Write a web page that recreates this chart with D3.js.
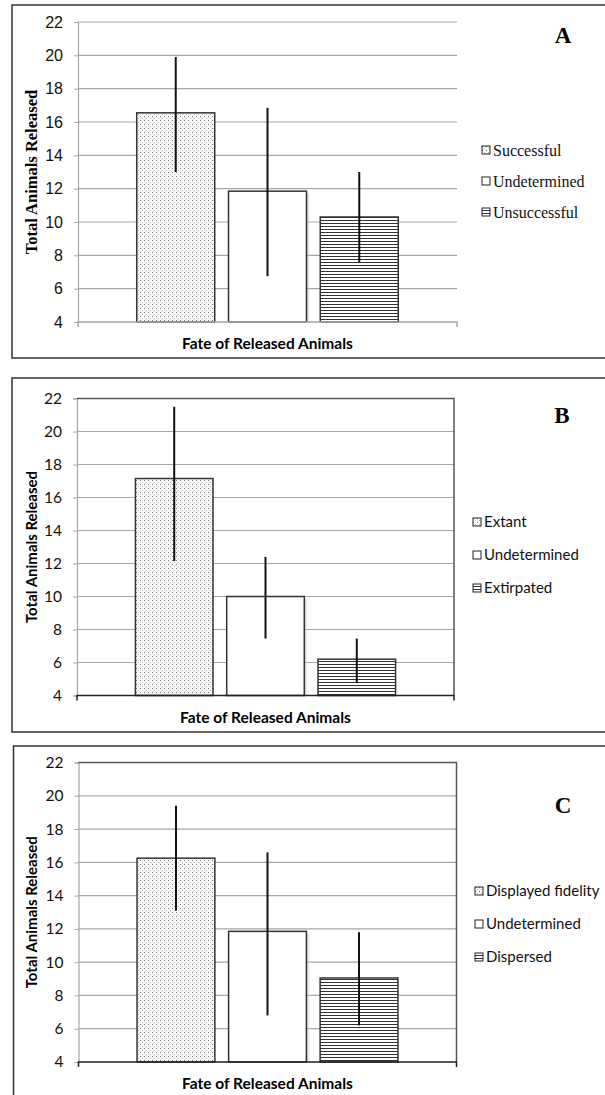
<!DOCTYPE html>
<html>
<head>
<meta charset="utf-8">
<script src="https://cdn.jsdelivr.net/npm/d3@7"></script>
<style>
  body { margin: 0; background: #fff; }
  svg { display: block; }
</style>
</head>
<body>
<div id="chart"></div>
<script>
// values
const yTicks   = [4, 6, 8, 10, 12, 14, 16, 18, 20, 22]
const xTitle   = 'Fate of Released Animals'
const yTitle   = 'Total Animals Released'

const seriesA  = ['Successful', 'Undetermined', 'Unsuccessful']
const meansA   = [16.55, 11.85, 10.3]
const lowA     = [13.0, 6.75, 7.6]
const highA    = [19.9, 16.85, 13.0]

const seriesB  = ['Extant', 'Undetermined', 'Extirpated']
const meansB   = [17.15, 10.0, 6.2]
const lowB     = [12.15, 7.45, 4.75]
const highB    = [21.5, 12.4, 7.45]

const seriesC  = ['Displayed fidelity', 'Undetermined', 'Dispersed']
const meansC   = [16.25, 11.85, 9.05]
const lowC     = [13.1, 6.8, 6.2]
const highC    = [19.4, 16.6, 11.8]

const panelLabels = ['A', 'B', 'C']

const W = 605, H = 1095
const serif = "'Liberation Serif', 'Times New Roman', serif"
const sans  = "Lato, 'Open Sans', sans-serif"
const arial = "'Liberation Sans', Arial, sans-serif"

var svg = d3.select('#chart').append('svg').attr('width', W).attr('height', H)
var defs = svg.append('defs')

// dotted fill (bar 1)
var dots = defs.append('pattern').attr('id', 'dots').attr('patternUnits', 'userSpaceOnUse')
  .attr('width', 4).attr('height', 4)
dots.append('rect').attr('width', 4).attr('height', 4).attr('fill', '#f8f8f8')
dots.append('rect').attr('x', 0).attr('y', 0).attr('width', 1).attr('height', 1).attr('fill', '#777')
dots.append('rect').attr('x', 2).attr('y', 2).attr('width', 1).attr('height', 1).attr('fill', '#bbb')

// horizontal lines fill (bar 3)
var hlines = defs.append('pattern').attr('id', 'hlines').attr('patternUnits', 'userSpaceOnUse')
  .attr('width', 6).attr('height', 3)
hlines.append('rect').attr('width', 6).attr('height', 3).attr('fill', '#fff')
hlines.append('rect').attr('y', 1).attr('width', 6).attr('height', 1).attr('fill', '#333')

var shade = defs.append('linearGradient').attr('id', 'shade')
shade.append('stop').attr('offset', '0%').attr('stop-color', '#999').attr('stop-opacity', 0.6)
shade.append('stop').attr('offset', '100%').attr('stop-color', '#fff').attr('stop-opacity', 0)

const fills = ['url(#dots)', '#fff', 'url(#hlines)']

var panels = [
  { series: seriesA, means: meansA, low: lowA, high: highA,
    box: {x: 12, y: 5, h: 353}, plot: {left: 78, right: 457, top: 22, bottom: 322},
    tickFont: arial, tickSize: 16, titleFont: serif, titleSize: 16.5, legendFont: serif, legendSize: 16,
    frame: false, legendX: 482, legendY: 150, legendStep: 31, labelX: 563, labelY: 43 },
  { series: seriesB, means: meansB, low: lowB, high: highB,
    box: {x: 12, y: 378, h: 354}, plot: {left: 77, right: 454, top: 398.5, bottom: 695.5},
    tickFont: sans, tickSize: 15.5, titleFont: sans, titleSize: 15, legendFont: sans, legendSize: 15,
    frame: true, legendX: 473, legendY: 522, legendStep: 33, labelX: 562, labelY: 423 },
  { series: seriesC, means: meansC, low: lowC, high: highC,
    box: {x: 13.5, y: 746, h: 400}, plot: {left: 78.5, right: 456.5, top: 762.5, bottom: 1062},
    tickFont: sans, tickSize: 15.5, titleFont: sans, titleSize: 15, legendFont: sans, legendSize: 15,
    frame: true, legendX: 475, legendY: 891, legendStep: 33, labelX: 563, labelY: 813 }
]

panels.forEach(function(p, i) {
  var g = svg.append('g')

  // outer frame
  g.append('rect').attr('x', p.box.x).attr('y', p.box.y).attr('width', 620).attr('height', p.box.h)
    .attr('fill', 'none').attr('stroke', '#333').attr('stroke-width', 1.5)

  var y = d3.scaleLinear().domain([4, 22]).range([p.plot.bottom, p.plot.top])
  var x = d3.scaleBand().domain(p.series).range([p.plot.left, p.plot.right])
    .paddingInner(0.15).paddingOuter(0.64)

  // gridlines
  g.append('g').selectAll('line').data(yTicks.slice(1)).join('line')
    .attr('x1', p.plot.left).attr('x2', p.plot.right)
    .attr('y1', d => y(d)).attr('y2', d => y(d))
    .attr('stroke', '#a6a6a6').attr('stroke-width', 1.2)

  // y axis
  var yAxis = g.append('g').attr('transform', 'translate(' + p.plot.left + ',0)')
    .call(d3.axisLeft(y).tickValues(yTicks).tickSize(4).tickPadding(11))
  yAxis.select('.domain').attr('stroke', '#a6a6a6').attr('stroke-width', 1.2)
  yAxis.selectAll('.tick line').attr('stroke', '#a6a6a6')
  yAxis.selectAll('.tick text').attr('font-family', p.tickFont).attr('font-size', p.tickSize).attr('fill', '#111')

  // plot frame for B and C
  if (p.frame) {
    g.append('path')
      .attr('d', 'M' + p.plot.left + ',' + p.plot.top + 'H' + p.plot.right + 'V' + p.plot.bottom)
      .attr('fill', 'none').attr('stroke', '#555').attr('stroke-width', 1.5)
  }

  // bars
  var rows = p.series.map((s, k) => ({name: s, mean: p.means[k], low: p.low[k], high: p.high[k], k: k}))
  g.append('rect').attr('x', x(p.series[1]) + x.bandwidth()).attr('y', y(p.means[1]) + 2)
    .attr('width', 5).attr('height', y(4) - y(p.means[1]) - 2).attr('fill', 'url(#shade)')
  g.append('g').selectAll('rect').data(rows).join('rect')
    .attr('x', d => x(d.name)).attr('y', d => y(d.mean))
    .attr('width', x.bandwidth()).attr('height', d => y(4) - y(d.mean))
    .attr('fill', d => fills[d.k]).attr('stroke', '#333').attr('stroke-width', 1.5)

  // error bars
  g.append('g').selectAll('line').data(rows).join('line')
    .attr('x1', d => x(d.name) + x.bandwidth() / 2).attr('x2', d => x(d.name) + x.bandwidth() / 2)
    .attr('y1', d => y(d.high)).attr('y2', d => y(d.low))
    .attr('stroke', '#111').attr('stroke-width', 2)

  // bottom axis
  var bottomColor = p.frame ? '#222' : '#a6a6a6'
  g.append('path')
    .attr('d', 'M' + p.plot.left + ',' + (p.plot.bottom + 5) + 'V' + p.plot.bottom + 'H' + p.plot.right + 'V' + (p.plot.bottom + 5))
    .attr('fill', 'none').attr('stroke', bottomColor).attr('stroke-width', 1.5)

  // axis titles
  var cx = (p.plot.left + p.plot.right) / 2
  g.append('text').attr('x', cx).attr('y', p.plot.bottom + 27)
    .attr('text-anchor', 'middle').attr('font-family', sans).attr('font-weight', 'bold').attr('font-size', 15.5)
    .text(xTitle)
  g.append('text').attr('transform', 'translate(37,' + ((p.plot.top + p.plot.bottom) / 2) + ') rotate(-90)')
    .attr('text-anchor', 'middle').attr('font-family', p.titleFont).attr('font-weight', 'bold').attr('font-size', p.titleSize)
    .text(yTitle)

  // legend
  var leg = g.append('g').selectAll('g').data(rows).join('g')
    .attr('transform', d => 'translate(' + p.legendX + ',' + (p.legendY + d.k * p.legendStep) + ')')
  leg.append('rect').attr('x', 0).attr('y', -4).attr('width', 8).attr('height', 8)
    .attr('fill', d => fills[d.k]).attr('stroke', '#222').attr('stroke-width', 1)
  leg.append('text').attr('x', 11).attr('dy', '0.35em')
    .attr('font-family', p.legendFont).attr('font-size', p.legendSize).attr('fill', '#111')
    .text(d => d.name)

  // panel letter
  g.append('text').attr('x', p.labelX).attr('y', p.labelY).attr('text-anchor', 'middle')
    .attr('font-family', serif).attr('font-weight', 'bold').attr('font-size', 23)
    .text(panelLabels[i])
})
</script>
</body>
</html>
